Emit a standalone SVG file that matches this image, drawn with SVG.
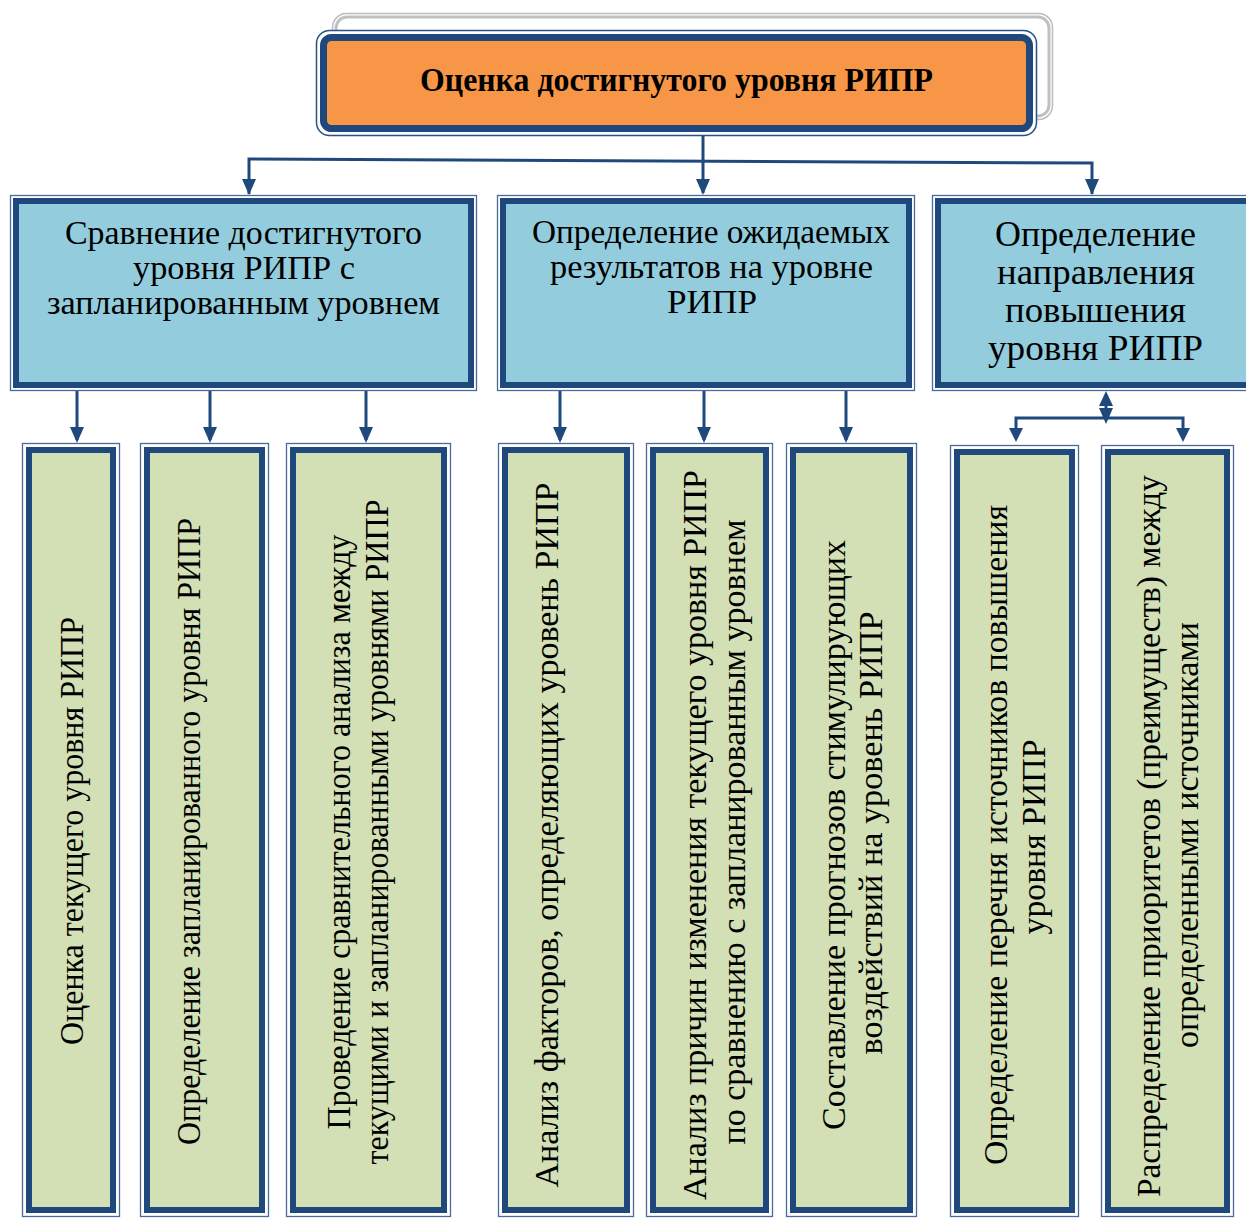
<svg xmlns="http://www.w3.org/2000/svg" width="1246" height="1219" viewBox="0 0 1246 1219">
<defs>
<style>
.outer{fill:#fff;stroke:#4a6a98;stroke-width:1.3}
.thick{stroke:#1f497d;stroke-width:6}
.blue{fill:#93cddd}
.green{fill:#d3dfb4}
.t{font-family:"Liberation Serif","Times New Roman",serif;fill:#000;text-anchor:middle}
.mid{font-size:33px}
.mid3{font-size:35px}
.vt{font-size:33px}
.title{font-size:34px;font-weight:bold}
.con{fill:none;stroke:#1f497d;stroke-width:3}
.ah{fill:#1f497d}
</style>
</defs>

<g id="title">
<rect x="332.5" y="13.5" width="720" height="106" rx="14" fill="#fff" stroke="#bdbdbd" stroke-width="1.5"/>
<rect x="336" y="17" width="713" height="99" rx="11" fill="#fff" stroke="#c0c0c0" stroke-width="3"/>
<rect x="316.5" y="30.5" width="720" height="105" rx="13" fill="#fff" stroke="#2a5183" stroke-width="1.5"/>
<rect x="323.5" y="37.5" width="706" height="91" rx="8" fill="#f79646" stroke="#1f497d" stroke-width="7"/>
<text class="t title" x="676.5" y="91" textLength="513" lengthAdjust="spacingAndGlyphs">Оценка достигнутого уровня РИПР</text>
</g>

<g id="connectors">
<polyline class="con" points="703,136 703,193"/>
<path class="ah" d="M696,179 L710,179 L703,195 Z"/>
<polyline class="con" points="249,194 249,159 1092,163 1092,194"/>
<path class="ah" d="M242,179 L256,179 L249,195 Z"/>
<path class="ah" d="M1085,179 L1099,179 L1092,195 Z"/>

<line class="con" x1="77" y1="391" x2="77" y2="440"/>
<path class="ah" d="M70,427 L84,427 L77,443 Z"/>
<line class="con" x1="210" y1="391" x2="210" y2="440"/>
<path class="ah" d="M203,427 L217,427 L210,443 Z"/>
<line class="con" x1="366" y1="391" x2="366" y2="440"/>
<path class="ah" d="M359,427 L373,427 L366,443 Z"/>

<line class="con" x1="560" y1="391" x2="560" y2="440"/>
<path class="ah" d="M553,427 L567,427 L560,443 Z"/>
<line class="con" x1="704" y1="391" x2="704" y2="440"/>
<path class="ah" d="M697,427 L711,427 L704,443 Z"/>
<line class="con" x1="846" y1="391" x2="846" y2="440"/>
<path class="ah" d="M839,427 L853,427 L846,443 Z"/>

<line class="con" x1="1106" y1="400" x2="1106" y2="412"/>
<path class="ah" d="M1099,406 L1113,406 L1106,391 Z"/>
<path class="ah" d="M1099,408 L1113,408 L1106,424 Z"/>
<polyline class="con" points="1016,436 1016,418 1183,418 1183,436"/>
<path class="ah" d="M1009,428 L1023,428 L1016,442 Z"/>
<path class="ah" d="M1176,428 L1190,428 L1183,442 Z"/>
</g>

<g id="m1">
<rect class="outer" x="10.5" y="195.5" width="466" height="195"/>
<rect class="blue thick" x="16" y="201" width="455" height="184"/>
<text class="t mid" x="243.5" y="244" textLength="357" lengthAdjust="spacingAndGlyphs">Сравнение достигнутого</text>
<text class="t mid" x="244" y="279" textLength="222" lengthAdjust="spacingAndGlyphs">уровня РИПР с</text>
<text class="t mid" x="243.5" y="314" textLength="393" lengthAdjust="spacingAndGlyphs">запланированным уровнем</text>
</g>
<g id="m2">
<rect class="outer" x="497.5" y="195.5" width="417" height="195"/>
<rect class="blue thick" x="503" y="201" width="406" height="184"/>
<text class="t mid" x="711" y="243" textLength="358" lengthAdjust="spacingAndGlyphs">Определение ожидаемых</text>
<text class="t mid" x="711.5" y="278" textLength="323" lengthAdjust="spacingAndGlyphs">результатов на уровне</text>
<text class="t mid" x="712" y="313" textLength="90" lengthAdjust="spacingAndGlyphs">РИПР</text>
</g>
<g id="m3">
<rect class="outer" x="932.5" y="195.5" width="330" height="195"/>
<rect class="blue thick" x="938" y="201" width="319" height="184"/>
<text class="t mid3" x="1095.5" y="246" textLength="201" lengthAdjust="spacingAndGlyphs">Определение</text>
<text class="t mid3" x="1096" y="284" textLength="198" lengthAdjust="spacingAndGlyphs">направления</text>
<text class="t mid3" x="1095.5" y="322" textLength="181" lengthAdjust="spacingAndGlyphs">повышения</text>
<text class="t mid3" x="1095.5" y="360" textLength="215" lengthAdjust="spacingAndGlyphs">уровня РИПР</text>
</g>

<g id="b1">
<rect class="outer" x="22.5" y="443.5" width="97" height="773"/>
<rect class="green thick" x="29" y="450" width="84" height="760"/>
<text class="t vt" transform="translate(83,831) rotate(-90)" textLength="428" lengthAdjust="spacingAndGlyphs">Оценка текущего уровня РИПР</text>
</g>
<g id="b2">
<rect class="outer" x="140.5" y="443.5" width="128" height="773"/>
<rect class="green thick" x="147" y="450" width="115" height="760"/>
<text class="t vt" transform="translate(200,831.5) rotate(-90)" textLength="627" lengthAdjust="spacingAndGlyphs">Определение запланированного уровня РИПР</text>
</g>
<g id="b3">
<rect class="outer" x="286.5" y="443.5" width="164" height="773"/>
<rect class="green thick" x="293" y="450" width="151" height="760"/>
<text class="t vt" transform="translate(350,832) rotate(-90)" textLength="595" lengthAdjust="spacingAndGlyphs">Проведение сравнительного анализа между</text>
<text class="t vt" transform="translate(388,832) rotate(-90)" textLength="665" lengthAdjust="spacingAndGlyphs">текущими и запланированными уровнями РИПР</text>
</g>
<g id="b4">
<rect class="outer" x="498.5" y="443.5" width="135" height="773"/>
<rect class="green thick" x="505" y="450" width="122" height="760"/>
<text class="t vt" transform="translate(558,835) rotate(-90)" textLength="705" lengthAdjust="spacingAndGlyphs">Анализ факторов, определяющих уровень РИПР</text>
</g>
<g id="b5">
<rect class="outer" x="646.5" y="443.5" width="126" height="773"/>
<rect class="green thick" x="653" y="450" width="113" height="760"/>
<text class="t vt" transform="translate(706,835) rotate(-90)" textLength="730" lengthAdjust="spacingAndGlyphs">Анализ причин изменения текущего уровня РИПР</text>
<text class="t vt" transform="translate(745,832) rotate(-90)" textLength="625" lengthAdjust="spacingAndGlyphs">по сравнению с запланированным уровнем</text>
</g>
<g id="b6">
<rect class="outer" x="786.5" y="443.5" width="130" height="773"/>
<rect class="green thick" x="793" y="450" width="117" height="760"/>
<text class="t vt" transform="translate(845,835) rotate(-90)" textLength="590" lengthAdjust="spacingAndGlyphs">Составление прогнозов стимулирующих</text>
<text class="t vt" transform="translate(882,833) rotate(-90)" textLength="443" lengthAdjust="spacingAndGlyphs">воздействий на уровень РИПР</text>
</g>
<g id="b7">
<rect class="outer" x="950.5" y="445.5" width="128" height="771"/>
<rect class="green thick" x="957" y="452" width="115" height="758"/>
<text class="t vt" transform="translate(1007,835) rotate(-90)" textLength="660" lengthAdjust="spacingAndGlyphs">Определение перечня источников повышения</text>
<text class="t vt" transform="translate(1045,837) rotate(-90)" textLength="195" lengthAdjust="spacingAndGlyphs">уровня РИПР</text>
</g>
<g id="b8">
<rect class="outer" x="1101.5" y="445.5" width="132" height="771"/>
<rect class="green thick" x="1108" y="452" width="119" height="758"/>
<text class="t vt" transform="translate(1160,836) rotate(-90)" textLength="722" lengthAdjust="spacingAndGlyphs">Распределение приоритетов (преимуществ) между</text>
<text class="t vt" transform="translate(1198,835) rotate(-90)" textLength="426" lengthAdjust="spacingAndGlyphs">определенными источниками</text>
</g>
</svg>
